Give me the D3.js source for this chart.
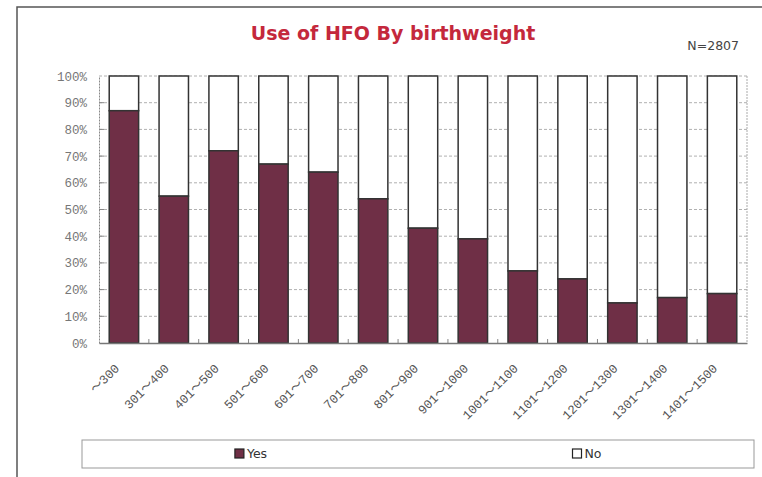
<!DOCTYPE html>
<html><head><meta charset="utf-8">
<script src="https://cdn.jsdelivr.net/npm/d3@7"></script>
<style>body{margin:0;background:#fff}svg{display:block}</style>
</head><body>
<script>
const categories = ["～300","301～400","401～500","501～600","601～700","701～800","801～900","901～1000","1001～1100","1101～1200","1201～1300","1301～1400","1401～1500"];
const yesValues = [87, 55, 72, 67, 64, 54, 43, 39, 27, 24, 15, 17, 18.5];
const noValues = yesValues.map(v => 100 - v);
const yTicks = [0,10,20,30,40,50,60,70,80,90,100];
const seriesNames = ["Yes","No"];
const seriesColors = ["#6f2f46","#ffffff"];

const W = 762, H = 477;
const svg = d3.select("body").append("svg").attr("width", W).attr("height", H);

// outer frame (left + top)
svg.append("path").attr("d","M17,477 L17,7 L762,7").attr("fill","none").attr("stroke","#555").attr("stroke-width",1.5);

// title
svg.append("text").attr("x",393).attr("y",40).attr("text-anchor","middle")
  .attr("font-family","DejaVu Sans, Verdana, sans-serif").attr("font-weight","bold").attr("font-size",19)
  .attr("fill","#c4283c").text("Use of HFO By birthweight");
svg.append("text").attr("x",739).attr("y",50).attr("text-anchor","end")
  .attr("font-family","DejaVu Sans, Verdana, sans-serif").attr("font-size",12.5)
  .attr("fill","#444").text("N=2807");

const x = d3.scaleBand().domain(categories).range([99,747]).paddingInner(0.41).paddingOuter(0.205);
const y = d3.scaleLinear().domain([0,100]).range([343,76]);

const g = svg.append("g");
// grid lines
g.selectAll("line.grid").data(yTicks.filter(t=>t>0)).join("line")
  .attr("x1",99).attr("x2",747).attr("y1",d=>y(d)).attr("y2",d=>y(d))
  .attr("stroke","#b0b0b0").attr("stroke-width",1).attr("stroke-dasharray","3,2");
// plot border dotted
g.append("line").attr("x1",747).attr("x2",747).attr("y1",76).attr("y2",343)
  .attr("stroke","#aaa").attr("stroke-dasharray","2,1");

// y axis
const yAxis = d3.axisLeft(y).tickValues(yTicks).tickFormat(d=>d+"%").tickSize(0);
const ya = svg.append("g").attr("transform","translate(99,0)").call(yAxis);
ya.select(".domain").attr("stroke","#888").attr("stroke-dasharray","2,1");
ya.selectAll("text").attr("font-family","Liberation Mono, DejaVu Sans Mono, monospace")
  .attr("font-size",12.5).attr("fill","#777").attr("x",-12);
// inward ticks
g.selectAll("line.yt").data(yTicks.filter(t=>t>0&&t<100)).join("line")
  .attr("x1",99).attr("x2",104).attr("y1",d=>y(d)).attr("y2",d=>y(d)).attr("stroke","#888");

// bars
const stacked = categories.map((c,i)=>({c, yes:yesValues[i], no:noValues[i]}));
g.selectAll("rect.no").data(stacked).join("rect")
  .attr("x",d=>x(d.c)).attr("width",x.bandwidth())
  .attr("y",d=>y(d.yes+d.no)).attr("height",d=>y(d.yes)-y(d.yes+d.no))
  .attr("fill",seriesColors[1]).attr("stroke","#333").attr("stroke-width",1.5);
g.selectAll("rect.yes").data(stacked).join("rect")
  .attr("x",d=>x(d.c)).attr("width",x.bandwidth())
  .attr("y",d=>y(d.yes)).attr("height",d=>y(0)-y(d.yes))
  .attr("fill",seriesColors[0]).attr("stroke","#333").attr("stroke-width",1.5);

// x axis
const xAxis = d3.axisBottom(x).tickSize(0);
const xa = svg.append("g").attr("transform","translate(0,343)").call(xAxis);
xa.select(".domain").attr("stroke","#777").attr("stroke-width",1.5);
xa.selectAll("text").attr("font-family","Liberation Mono, Noto Sans CJK JP, monospace")
  .attr("font-size",12.5).attr("fill","#555")
  .attr("text-anchor","end").attr("transform","translate(-7,23) rotate(-45)").attr("dy","0.35em").attr("y",0).attr("x",0);
// small ticks between categories
const step = x.step();
g.selectAll("line.sep").data(categories.slice(1)).join("line")
  .attr("x1",d=>x(d)-(step-x.bandwidth())/2).attr("x2",d=>x(d)-(step-x.bandwidth())/2)
  .attr("y1",343).attr("y2",339).attr("stroke","#888");

// legend
svg.append("rect").attr("x",82).attr("y",440).attr("width",672).attr("height",28)
  .attr("fill","#fff").attr("stroke","#999").attr("stroke-width",1);
const legCenters = [251, 587];
seriesNames.forEach((n,i)=>{
  const lg = svg.append("g").attr("transform",`translate(${legCenters[i]},454)`);
  const t = lg.append("text").attr("x",-6).attr("y",0).attr("dy","0.35em")
    .attr("font-family","DejaVu Sans, Verdana, sans-serif").attr("font-size",12.5).attr("fill","#333").text(n);
  const tw = t.node().getComputedTextLength();
  const total = 10 + 2 + tw;
  const sx = -total/2;
  lg.append("rect").attr("x",sx).attr("y",-5).attr("width",9).attr("height",9)
    .attr("fill",seriesColors[i]).attr("stroke","#222").attr("stroke-width",1.2);
  t.attr("x",sx+12);
});
</script>
</body></html>
